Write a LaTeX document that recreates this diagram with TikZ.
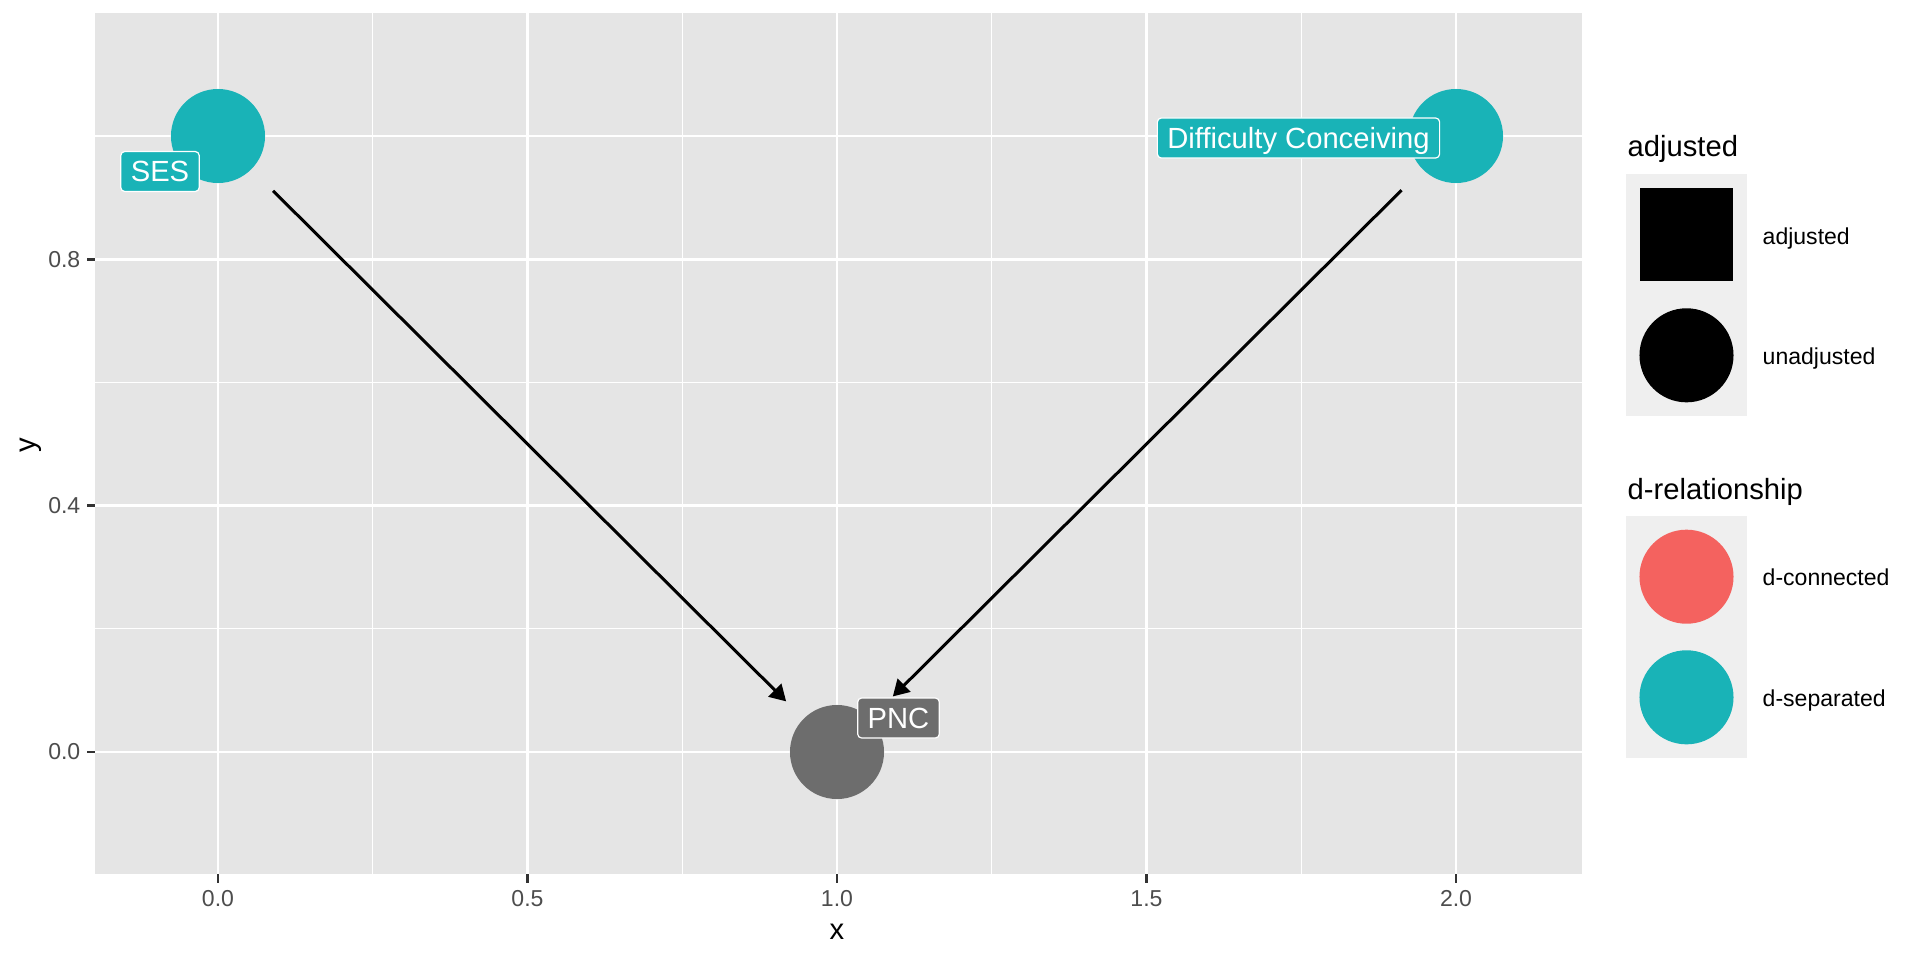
\documentclass[tikz,border=0pt]{standalone}
\usepackage{fontspec}
\setmainfont[Ligatures=NoCommon]{Liberation Sans}
\usetikzlibrary{arrows.meta}
\definecolor{panelbg}{HTML}{E5E5E5}
\definecolor{keybg}{HTML}{EFEFEF}
\definecolor{tealn}{HTML}{19B3B7}
\definecolor{redn}{HTML}{F4625F}
\definecolor{greyn}{HTML}{6D6D6D}
\definecolor{tickcol}{HTML}{333333}
\definecolor{ticklab}{HTML}{4D4D4D}
\begin{document}
\begin{tikzpicture}[x=0.01cm,y=-0.01cm,
  bigfont/.style={font=\fontsize{8.3pt}{10pt}\selectfont},
  smallfont/.style={font=\fontsize{6.55pt}{8pt}\selectfont},
  major/.style={white, line width=0.026cm},
  minor/.style={white, line width=0.013cm},
  dagnode/.style={circle, minimum size=0.94cm, inner sep=0pt},
  daglabel/.style={bigfont, text=white, draw=white, line width=0.012cm, rounded corners=0.04cm,
    inner xsep=0.1cm, inner ysep=0pt, minimum height=0.4cm, text height=0.208cm, text depth=0pt},
  dagedge/.style={line width=0.03cm, -{Triangle[length=0.16cm,width=0.18cm]}},
  tickmark/.style={tickcol, line width=0.024cm},
  ticklabel/.style={smallfont, text=ticklab, inner sep=0pt},
  legtitle/.style={bigfont, anchor=base west, inner sep=0pt},
  leglabel/.style={smallfont, anchor=base west, inner sep=0pt},
]
\useasboundingbox (0,0) rectangle (1920,960);
\fill[white] (0,0) rectangle (1920,960);
% panel
\fill[panelbg] (95,13) rectangle (1582,874);
% minor grid
\foreach \gx in {372.75,682.25,991.75,1301.25} \draw[minor] (\gx,13) -- (\gx,874);
\foreach \gy in {628.8,382.5,136.1} \draw[minor] (95,\gy) -- (1582,\gy);
% major grid
\foreach \gx in {218,527.5,837,1146.5,1456} \draw[major] (\gx,13) -- (\gx,874);
\foreach \gy in {752,505.6,259.3} \draw[major] (95,\gy) -- (1582,\gy);
% ticks
\foreach \gx/\lab in {218/0.0,527.5/0.5,837/1.0,1146.5/1.5,1456/2.0} {
  \draw[tickmark] (\gx,874) -- (\gx,883);
  \node[ticklabel, anchor=north] (xt\lab) at (\gx,889.5) {\lab};
}
\foreach \gy/\lab in {752/0.0,505.6/0.4,259.3/0.8} {
  \draw[tickmark] (87,\gy) -- (95,\gy);
  \node[ticklabel, anchor=east] (yt\lab) at (81,\gy) {\lab};
}
% axis titles
\node[bigfont, inner sep=0pt] (xtitle) at (837,932) {x};
\node[bigfont, inner sep=0pt, rotate=90] (ytitle) at (31,445) {y};
% edges and nodes
\node[dagnode, fill=tealn] (ses) at (218,136) {};
\node[dagnode, fill=tealn] (dc) at (1456,136) {};
\node[dagnode, fill=greyn] (pnc) at (837,752) {};
\draw[dagedge, shorten <=0.30cm, shorten >=0.24cm] (ses) -- (pnc);
\draw[dagedge, shorten <=0.29cm, shorten >=0.31cm] (dc) -- (pnc);
% labels
\node[daglabel, fill=tealn] (seslab) at (160,171.5) {SES};
\node[daglabel, fill=tealn] (dclab) at (1298.5,138) {Difficulty Conceiving};
\node[daglabel, fill=greyn] (pnclab) at (898.5,718) {PNC};
% legend: adjusted
\node[legtitle] (lt1) at (1627,156) {adjusted};
\fill[keybg] (1626,174) rectangle (1747,416);
\node[rectangle, fill=black, minimum size=0.93cm, inner sep=0pt] (kadj) at (1686.5,234.5) {};
\node[circle, fill=black, minimum size=0.94cm, inner sep=0pt] (kunadj) at (1686.5,355.3) {};
\node[leglabel] (l1) at (1762,244) {adjusted};
\node[leglabel] (l2) at (1762,364.5) {unadjusted};
% legend: d-relationship
\node[legtitle] (lt2) at (1627,499) {d-relationship};
\fill[keybg] (1626,516) rectangle (1747,758);
\node[circle, fill=redn, minimum size=0.94cm, inner sep=0pt] (kcon) at (1686.5,576.7) {};
\node[circle, fill=tealn, minimum size=0.94cm, inner sep=0pt] (ksep) at (1686.5,697.3) {};
\node[leglabel] (l3) at (1762,585.5) {d-connected};
\node[leglabel] (l4) at (1762,706) {d-separated};
\end{tikzpicture}
\end{document}
